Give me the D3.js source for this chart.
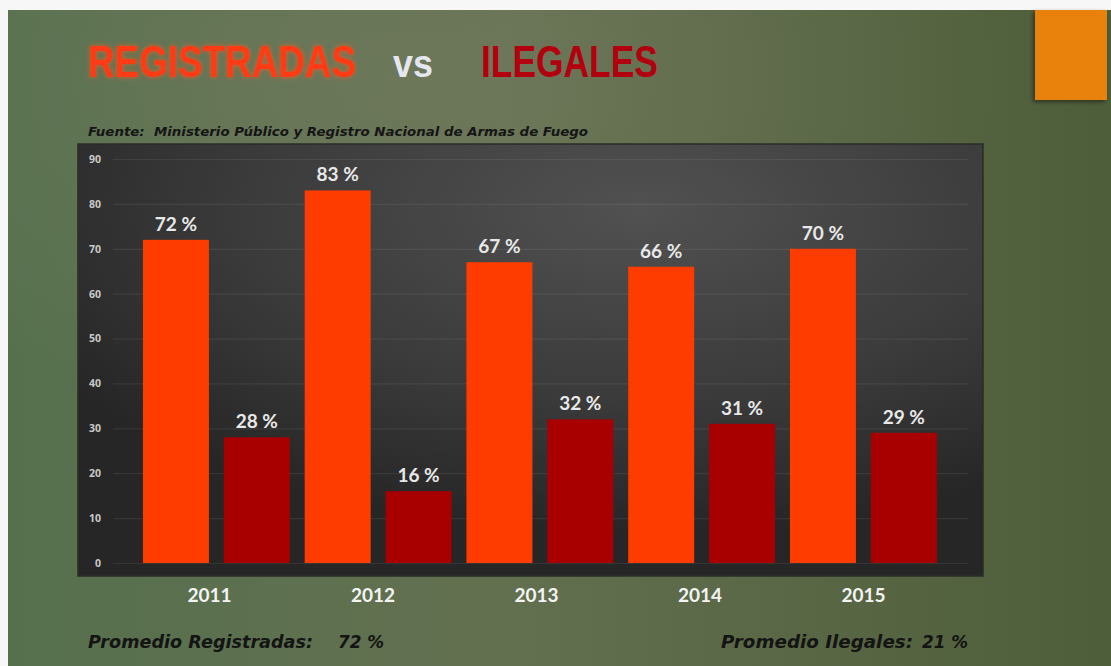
<!DOCTYPE html>
<html><head><meta charset="utf-8">
<script src="https://cdn.jsdelivr.net/npm/d3@7"></script>
<style>html,body{margin:0;padding:0;background:#f7f7f7;overflow:hidden}svg{display:block}</style>
</head><body>
<svg id="c" width="1111" height="666"></svg>
<script>
const years = ["2011","2012","2013","2014","2015"];
const seriesNames = ["Registradas","Ilegales"];
const registradas = [72, 83, 67, 66, 70];
const ilegales = [28, 16, 32, 31, 29];
const yTicks = [0,10,20,30,40,50,60,70,80,90];
const titleParts = ["REGISTRADAS","vs","ILEGALES"];
const sourceText = "Fuente:  Ministerio Público y Registro Nacional de Armas de Fuego";
const avgLabels = ["Promedio Registradas:", "Promedio Ilegales:"];
const avgValues = ["72 %", "21 %"];

const svg = d3.select("#c");
const defs = svg.append("defs");

// background gradients
const bg = defs.append("linearGradient").attr("id","bg").attr("x1","0").attr("x2","1").attr("y1","0").attr("y2","0");
bg.append("stop").attr("offset","0").attr("stop-color","#56704e");
bg.append("stop").attr("offset","0.45").attr("stop-color","#637050");
bg.append("stop").attr("offset","1").attr("stop-color","#4e5d3a");
const bgr = defs.append("radialGradient").attr("id","bgr").attr("cx","0.35").attr("cy","0.1").attr("r","0.55");
bgr.append("stop").attr("offset","0").attr("stop-color","#8a8a72").attr("stop-opacity",0.3);
bgr.append("stop").attr("offset","1").attr("stop-color","#8a8a72").attr("stop-opacity",0);

const pg = defs.append("radialGradient").attr("id","pg").attr("cx","0.62").attr("cy","0.15").attr("r","0.75");
pg.append("stop").attr("offset","0").attr("stop-color","#515151");
pg.append("stop").attr("offset","0.6").attr("stop-color","#3a3a3a");
pg.append("stop").attr("offset","1").attr("stop-color","#262626");

const glow = defs.append("filter").attr("id","glow").attr("x","-10%").attr("y","-30%").attr("width","120%").attr("height","160%");
glow.append("feGaussianBlur").attr("in","SourceAlpha").attr("stdDeviation",2.5).attr("result","b");
glow.append("feFlood").attr("flood-color","#ff5a20").attr("flood-opacity",0.8);
glow.append("feComposite").attr("in2","b").attr("operator","in").attr("result","g");
const gm = glow.append("feMerge"); gm.append("feMergeNode").attr("in","g"); gm.append("feMergeNode").attr("in","SourceGraphic");

const sh = defs.append("filter").attr("id","sh").attr("x","-20%").attr("y","-20%").attr("width","150%").attr("height","150%");
sh.append("feDropShadow").attr("dx",-2).attr("dy",2).attr("stdDeviation",2).attr("flood-color","#000").attr("flood-opacity",0.45);

// slide
svg.append("rect").attr("x",0).attr("y",0).attr("width",1111).attr("height",666).attr("fill","#f7f7f7");
svg.append("rect").attr("x",8).attr("y",10).attr("width",1103).attr("height",656).attr("fill","url(#bg)");
svg.append("rect").attr("x",8).attr("y",10).attr("width",1103).attr("height",656).attr("fill","url(#bgr)");

// orange accent block
svg.append("rect").attr("x",1035).attr("y",10).attr("width",72).attr("height",90).attr("fill","#e8820f").attr("filter","url(#sh)");

// title (horizontally condensed via scale so boxes stay exact)
const tf = "'Liberation Sans',Arial,sans-serif";
function fitText(x, yb, t, size, width, fill, filt){
  const g = svg.append("g");
  const tx = g.append("text").attr("x",0).attr("y",0).attr("font-family",tf).attr("font-weight","bold")
    .attr("font-size",size).attr("fill",fill).text(t);
  if (filt) tx.attr("filter",filt);
  const w = tx.node().getComputedTextLength();
  g.attr("transform",`translate(${x},${yb}) scale(${width/w},1)`);
}
fitText(88, 77, titleParts[0], 45, 268, "#ff3a12", "url(#glow)");
fitText(393, 77, titleParts[1], 38, 40, "#e4e6f0", null);
fitText(481, 77, titleParts[2], 45, 177, "#b3000f", null);

// source
svg.append("text").attr("x",88).attr("y",136).attr("font-family","'DejaVu Sans',sans-serif").attr("font-style","oblique").attr("font-weight","bold")
  .attr("font-size",11.5).attr("fill","#151515").attr("textLength",500).attr("lengthAdjust","spacingAndGlyphs")
  .attr("xml:space","preserve").text(sourceText);

// chart panel
svg.append("rect").attr("x",78).attr("y",144).attr("width",905).attr("height",432).attr("fill","url(#pg)")
  .attr("stroke","#2a2c26").attr("stroke-width",1.5);

const y = d3.scaleLinear().domain([0,90]).range([563,159]);
const x0 = d3.scaleBand().domain(years).range([135.5, 944.25]).padding(0);
const x1 = d3.scaleBand().domain(seriesNames).range([0, x0.bandwidth()]).paddingInner(0.184).paddingOuter(0.092);
const xl = d3.scalePoint().domain(years).range([209, 863]);
const color = d3.scaleOrdinal().domain(seriesNames).range(["#ff3c00","#a80000"]);

// gridlines
const grid = svg.append("g")
  .call(d3.axisLeft(y).tickValues(yTicks).tickSize(-855).tickFormat(""))
  .attr("transform","translate(113,0)");
grid.select(".domain").remove();
grid.selectAll("line").attr("stroke","#ffffff").attr("stroke-opacity",0.07).attr("stroke-width",1.2);

// y axis labels
const ya = svg.append("g").attr("transform","translate(101,0)")
  .call(d3.axisLeft(y).tickValues(yTicks).tickSize(0).tickPadding(0));
ya.select(".domain").remove();
ya.selectAll("text").attr("font-family","'Open Sans',sans-serif").attr("font-weight",700).attr("font-size",10.5).attr("fill","#c9c9c9");

// bars
const data = years.map((yr,i)=>({year:yr, vals:[{s:"Registradas",v:registradas[i]},{s:"Ilegales",v:ilegales[i]}]}));
const groups = svg.append("g").selectAll("g").data(data).join("g")
  .attr("transform",d=>`translate(${x0(d.year)},0)`);
groups.selectAll("rect").data(d=>d.vals).join("rect")
  .attr("x",d=>x1(d.s)).attr("width",x1.bandwidth())
  .attr("y",d=>y(d.v)).attr("height",d=>y(0)-y(d.v))
  .attr("fill",d=>color(d.s));
groups.selectAll("text").data(d=>d.vals).join("text")
  .attr("x",d=>x1(d.s)+x1.bandwidth()/2).attr("y",d=>y(d.v)-9)
  .attr("text-anchor","middle").attr("font-family","Lato,'Open Sans',sans-serif").attr("font-weight",700)
  .attr("font-size",19).attr("fill","#e8e8e8").text(d=>d.v+" %");

// x axis labels
const xa = svg.append("g").attr("transform","translate(0,587)")
  .call(d3.axisBottom(xl).tickSize(0).tickPadding(0));
xa.select(".domain").remove();
xa.selectAll("text").attr("dy","0.8em").attr("font-family","Lato,'Open Sans',sans-serif").attr("font-weight",700)
  .attr("font-size",19).attr("fill","#f4f4f4");

// averages
const ff = "'DejaVu Sans',sans-serif";
function avg(x, t, len){
  svg.append("text").attr("x",x).attr("y",648).attr("font-family",ff).attr("font-style","oblique").attr("font-weight","bold")
    .attr("font-size",17).attr("fill","#141414").attr("textLength",len).attr("lengthAdjust","spacingAndGlyphs").text(t);
}
avg(88, avgLabels[0], 225);
avg(338, avgValues[0], 46);
avg(721, avgLabels[1], 192);
avg(922, avgValues[1], 46);
</script>
</body></html>
